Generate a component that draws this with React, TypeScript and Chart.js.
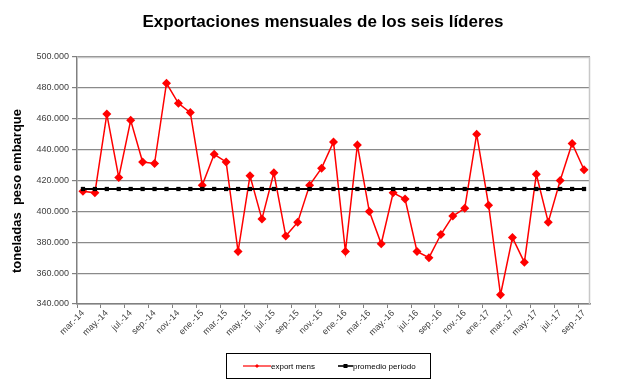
import React, { useEffect, useRef } from "react";
import { Chart, registerables } from "chart.js";

Chart.register(...registerables);

const categories: string[] = [
  "mar.-14", "abr.-14", "may.-14", "jun.-14", "jul.-14", "ago.-14", "sep.-14", "oct.-14", "nov.-14", "dic.-14",
  "ene.-15", "feb.-15", "mar.-15", "abr.-15", "may.-15", "jun.-15", "jul.-15", "ago.-15", "sep.-15", "oct.-15", "nov.-15", "dic.-15",
  "ene.-16", "feb.-16", "mar.-16", "abr.-16", "may.-16", "jun.-16", "jul.-16", "ago.-16", "sep.-16", "oct.-16", "nov.-16", "dic.-16",
  "ene.-17", "feb.-17", "mar.-17", "abr.-17", "may.-17", "jun.-17", "jul.-17", "ago.-17", "sep.-17",
];

const exportMens: number[] = [
  413000, 412000, 463000, 422000, 459000, 432000, 431000, 483000, 470000, 464000,
  417000, 437000, 432000, 374000, 423000, 395000, 425000, 384000, 393000, 417000, 428000, 445000,
  374000, 443000, 400000, 379000, 412000, 408000, 374000, 370000, 385000, 397000, 402000, 450000,
  404000, 346000, 383000, 367000, 424000, 393000, 420000, 444000, 427000,
];

const promedioPeriodo: number[] = categories.map(() => 414500);

const yTicks: number[] = [340000, 360000, 380000, 400000, 420000, 440000, 460000, 480000, 500000];

const TITLE = "Exportaciones mensuales de los seis líderes";
const Y_TITLE = "toneladas  peso embarque";
const LEGEND_LABELS: string[] = ["export mens", "promedio período"];

const FONT = "'Liberation Sans', Arial, sans-serif";

const decorations = {
  id: "decorations",
  afterDatasetsDraw(chart: any) {
    const a = chart.chartArea;
    const ctx = chart.ctx;
    ctx.save();
    ctx.strokeStyle = "#c8c8c8";
    ctx.lineWidth = 1.5;
    ctx.beginPath();
    ctx.moveTo(a.left, a.top + 0.5);
    ctx.lineTo(a.right - 0.5, a.top + 0.5);
    ctx.lineTo(a.right - 0.5, a.bottom);
    ctx.stroke();
    ctx.restore();
  },
  afterDraw(chart: any) {
    const ctx = chart.ctx;
    ctx.save();
    // Title
    ctx.fillStyle = "#000";
    ctx.font = `bold 17px ${FONT}`;
    ctx.textAlign = "center";
    ctx.textBaseline = "middle";
    ctx.fillText(TITLE, 323, 22);
    // Y title
    ctx.save();
    ctx.translate(17, 191);
    ctx.rotate(-Math.PI / 2);
    ctx.font = `bold 13px ${FONT}`;
    ctx.fillText(Y_TITLE, 0, 0);
    ctx.restore();
    // Legend
    ctx.strokeStyle = "#000";
    ctx.lineWidth = 1;
    ctx.strokeRect(226.5, 353.5, 204, 25);
    const ly = 366;
    ctx.font = `8px ${FONT}`;
    ctx.textAlign = "left";
    ctx.textBaseline = "middle";
    // red item
    ctx.strokeStyle = "#ff0000";
    ctx.lineWidth = 1.2;
    ctx.beginPath();
    ctx.moveTo(243, ly);
    ctx.lineTo(271, ly);
    ctx.stroke();
    ctx.fillStyle = "#ff0000";
    ctx.beginPath();
    ctx.moveTo(257, ly - 2);
    ctx.lineTo(259, ly);
    ctx.lineTo(257, ly + 2);
    ctx.lineTo(255, ly);
    ctx.closePath();
    ctx.fill();
    ctx.fillStyle = "#000";
    ctx.fillText(LEGEND_LABELS[0], 271, ly + 0.5);
    // black item
    ctx.strokeStyle = "#000";
    ctx.lineWidth = 1.6;
    ctx.beginPath();
    ctx.moveTo(338, ly);
    ctx.lineTo(353, ly);
    ctx.stroke();
    ctx.fillRect(343.5, ly - 2, 4, 4);
    ctx.fillText(LEGEND_LABELS[1], 353, ly + 0.5);
    ctx.restore();
  },
};

export default function App() {
  const ref = useRef<HTMLCanvasElement>(null);

  useEffect(() => {
    document.body.style.margin = "0";
    const chart = new Chart(ref.current!, {
      type: "line",
      data: {
        labels: categories,
        datasets: [
          {
            label: LEGEND_LABELS[0],
            data: exportMens,
            borderColor: "#ff0000",
            backgroundColor: "#ff0000",
            borderWidth: 1.5,
            pointStyle: "rectRot",
            pointRadius: 4.5,
            pointBorderWidth: 0,
            tension: 0,
            order: 1,
          },
          {
            label: LEGEND_LABELS[1],
            data: promedioPeriodo,
            borderColor: "#000000",
            backgroundColor: "#000000",
            borderWidth: 2,
            pointStyle: "rect",
            pointRadius: 3,
            pointBorderWidth: 0,
            tension: 0,
            order: 0,
          },
        ],
      },
      options: {
        animation: false,
        responsive: false,
        maintainAspectRatio: false,
        layout: { padding: { left: 0, right: 50, top: 57, bottom: 40 } },
        plugins: {
          title: { display: false },
          tooltip: { enabled: false },
          legend: { display: false },
        },
        scales: {
          x: {
            type: "category",
            offset: true,
            afterFit: (s: any) => { s.height = 46; },
            grid: {
              offset: true,
              drawOnChartArea: false,
              drawTicks: true,
              tickLength: 4,
              tickColor: (ctx: any) => (ctx.index % 2 === 0 ? "#808080" : "rgba(0,0,0,0)"),
            },
            border: { color: "#808080", width: 1.5 },
            ticks: {
              autoSkip: false,
              minRotation: 45,
              maxRotation: 45,
              padding: 0,
              color: "#404040",
              font: { family: FONT, size: 9 },
              callback: (_v: any, i: number) => (i % 2 === 0 ? categories[i] : ""),
            },
          },
          y: {
            min: 340000,
            max: 500000,
            afterFit: (s: any) => { s.width = 77; },
            afterBuildTicks: (s: any) => { s.ticks = yTicks.map((v) => ({ value: v })); },
            grid: {
              color: "#8a8a8a",
              lineWidth: 1.2,
              tickLength: 5,
              tickColor: "#808080",
            },
            border: { color: "#808080", width: 1.5 },
            ticks: {
              padding: 3,
              color: "#404040",
              font: { family: FONT, size: 9 },
              callback: (v: any) => String(Math.round(Number(v))).replace(/\B(?=(\d{3})+(?!\d))/g, "."),
            },
          },
        },
      },
      plugins: [decorations],
    });
    return () => chart.destroy();
  }, []);

  return (
    <div style={{ position: "absolute", left: 0, top: 0, width: 640, height: 390, background: "#fff" }}>
      <canvas ref={ref} width={640} height={390} style={{ display: "block" }} />
    </div>
  );
}
